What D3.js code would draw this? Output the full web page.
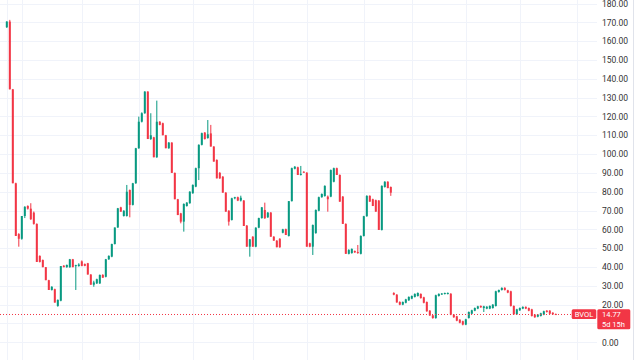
<!DOCTYPE html>
<html>
<head>
<meta charset="utf-8">
<script src="https://cdn.jsdelivr.net/npm/d3@7"></script>
<style>
  html, body { margin: 0; padding: 0; background: #fff; }
  svg { display: block; }
  .price-axis text { font-family: Roboto, "Noto Sans", sans-serif; font-size: 8.5px; fill: #333; }
  .tag { font-family: Roboto, "Noto Sans", sans-serif; font-size: 7.5px; fill: #fff; }
</style>
</head>
<body>
<div id="chart"></div>
<script>
// weekly bars, [open, high, low, close]
// before the drop down to the 20s
const barsBefore = [
  [167.4,170.6,167.0,170.4],[170.4,171.3,134.4,134.4],[134.4,134.6,84.5,84.5],[84.5,84.8,56.5,56.5],
  [57.5,58.0,50.8,55.0],[55.0,67.1,54.5,67.1],[67.1,72.3,66.0,72.0],[72.4,72.8,70.5,71.0],
  [71.0,73.9,65.0,65.4],[68.9,69.5,62.5,62.9],[62.9,63.2,42.7,42.7],[45.9,46.2,42.4,42.7],
  [43.7,44.0,39.9,39.9],[39.9,40.0,33.0,33.0],[33.0,33.2,27.8,27.8],[27.8,29.8,27.5,29.5],
  [28.2,28.5,21.1,21.1],[19.3,22.8,18.9,22.5],[22.1,40.5,21.8,40.5],[40.7,41.0,39.9,39.9],
  [39.9,41.3,39.6,41.1],[39.9,44.3,39.6,44.1],[44.1,44.3,39.9,39.9],[40.5,41.2,27.8,41.0],
  [40.5,42.0,40.2,41.3],[43.0,43.5,40.4,40.6],[41.6,41.9,40.4,40.6],[42.0,42.2,36.0,36.0],
  [36.0,36.2,30.6,30.6],[30.6,32.7,29.5,31.8],[31.3,33.8,31.0,33.5],[31.3,36.0,31.0,35.8],
  [35.8,36.2,34.3,34.3],[34.8,44.3,34.5,44.1],[44.1,46.2,43.8,45.9],[45.5,52.4,45.2,52.2],
  [52.2,61.0,52.0,61.0],[61.0,71.4,60.8,71.2],[71.7,72.0,69.4,69.4],[67.1,70.2,66.8,69.9],
  [67.1,83.6,66.8,80.0],[80.9,81.2,66.4,73.0],[73.0,84.7,72.7,84.5],[84.5,103.3,84.2,103.1],
  [103.1,119.9,102.8,117.2],[117.2,122.2,116.8,121.7],[121.7,133.4,121.4,133.2],[133.2,133.4,108.0,108.0],
  [108.0,121.7,107.5,110.0],[108.9,109.2,98.3,98.3],[98.3,128.4,98.0,117.2],[117.2,117.5,115.3,115.5],
  [116.4,116.7,110.0,110.0],[110.0,110.2,103.1,103.1],[103.1,106.4,102.8,106.1],[106.1,106.3,90.0,90.0],
  [90.0,90.2,76.0,76.0],[76.0,76.2,67.6,67.6],[68.5,68.8,63.2,64.1],[64.1,73.8,58.8,73.5],
  [72.4,74.5,72.1,74.2],[73.9,80.3,73.6,80.0],[79.2,83.9,78.9,83.6],[82.7,92.8,82.4,92.5],
  [92.5,105.2,86.2,104.9],[104.9,111.4,104.6,111.1],[111.4,111.7,107.7,108.0],[108.5,118.1,108.2,110.5],
  [111.0,115.5,104.0,104.0],[104.0,104.2,96.0,96.0],[96.9,97.2,87.1,87.1],[90.0,90.5,86.8,87.1],
  [88.0,88.3,79.5,79.5],[79.5,79.8,69.4,69.4],[69.9,70.2,62.0,64.1],[65.0,76.8,64.7,76.5],
  [76.5,77.3,76.0,77.1],[77.1,77.4,75.0,75.3],[75.3,77.9,74.8,76.8],[75.3,75.6,61.8,61.8],
  [62.0,62.3,50.8,50.8],[50.8,54.9,45.5,54.7],[56.1,56.4,50.8,50.8],[50.8,61.1,50.5,60.9],
  [60.9,66.2,60.6,66.0],[66.0,71.9,65.7,71.7],[70.3,74.2,65.6,65.9],[66.4,69.2,66.1,68.9],
  [68.9,69.2,56.1,56.1],[56.1,56.4,54.0,54.0],[54.0,54.3,50.5,50.5],[55.0,55.3,50.2,50.5],
  [58.2,60.3,57.9,60.0],[60.1,60.4,57.0,57.0],[56.5,75.0,56.2,75.0],[75.0,92.8,74.8,92.5],
  [92.2,93.6,91.9,93.3],[93.0,93.3,88.9,88.9],[88.9,93.7,88.6,89.5],[90.6,90.9,90.1,90.1],
  [90.1,90.4,50.8,50.8],[52.6,52.9,50.5,50.8],[50.8,62.6,46.4,62.3],[58.0,70.6,57.7,70.3],
  [69.9,77.4,69.6,77.1],[77.1,79.1,76.8,78.8],[77.7,83.4,77.4,83.1],[77.4,78.0,69.4,76.0],
  [77.4,91.8,77.1,91.5],[85.3,92.8,85.0,92.5],[92.5,92.8,88.9,88.9],[88.9,89.2,74.7,74.7],
  [77.4,77.7,62.9,62.9],[62.9,63.2,47.0,47.0],[47.0,49.5,46.7,49.0],[47.4,49.9,47.1,49.6],
  [48.5,48.8,47.5,47.8],[48.0,51.7,47.0,47.5],[47.0,56.8,46.7,56.5],[56.5,67.2,56.2,67.0],
  [67.0,78.1,66.7,77.8],[77.8,78.1,74.7,74.7],[76.0,76.3,72.4,72.4],[75.5,75.8,69.4,69.4],
  [75.3,75.6,59.7,59.7],[59.7,83.4,59.4,83.1],[82.5,85.6,82.2,85.3],[85.3,85.6,81.9,81.9],
  [82.5,82.8,77.8,79.5]
];

// after the drop
const barsAfter = [
  [26.2,26.6,25.0,25.3],[25.3,25.6,21.0,21.2],[21.4,21.8,19.7,20.0],[20.0,21.7,19.7,21.4],
  [21.0,23.1,20.7,22.8],[22.3,24.4,22.0,24.1],[23.2,24.9,22.9,24.6],[24.1,26.0,23.8,25.7],
  [24.6,26.5,24.3,26.2],[25.7,26.0,23.2,23.5],[23.9,24.2,20.7,21.0],[21.4,21.7,16.2,16.5],
  [16.8,17.1,14.0,14.3],[14.3,14.6,12.5,12.9],[12.9,25.3,12.5,25.0],[24.6,26.0,24.3,25.7],
  [25.5,26.2,25.2,25.9],[25.7,26.4,25.4,26.2],[25.7,26.5,25.4,26.2],[25.8,26.1,14.4,14.7],
  [14.7,15.0,13.0,13.3],[13.8,14.1,11.2,11.5],[12.0,12.3,10.1,10.4],[11.2,11.5,9.0,9.4],
  [9.4,12.5,9.1,12.2],[12.9,16.4,12.6,16.1],[15.2,17.3,14.9,17.0],[16.8,18.5,16.5,18.2],
  [17.9,19.4,17.6,19.1],[19.3,19.6,18.3,18.6],[18.2,19.4,16.1,19.1],[17.9,19.2,17.6,18.9],
  [17.9,19.6,17.6,19.3],[18.2,20.3,17.9,20.0],[19.3,27.4,19.0,27.1],[26.7,28.0,26.4,27.8],
  [27.8,29.2,27.5,28.9],[28.9,29.3,27.5,27.8],[27.6,27.9,26.1,26.4],[27.1,27.4,19.0,19.3],
  [19.3,19.6,14.6,14.9],[14.9,17.8,14.6,17.5],[17.0,18.5,16.7,18.2],[17.9,19.1,17.6,18.8],
  [18.8,19.1,17.6,17.9],[18.2,18.5,16.5,16.8],[17.5,17.8,13.7,14.0],[14.7,15.0,13.0,13.3],
  [13.6,15.0,13.3,14.7],[14.0,15.7,13.7,15.4],[14.7,16.8,14.4,16.5],[16.8,17.1,15.8,16.1],
  [16.8,17.1,14.9,15.2],[15.7,16.0,14.6,14.9],[15.0,15.3,14.5,14.77]
];

const priceTicks = [0, 10, 20, 30, 40, 50, 60, 70, 80, 90, 100, 110, 120, 130, 140, 150, 160, 170, 180];
// bar numbers where the time grid lines fall
const timeGridBars = [0, 5, 25, 44, 62, 82, 100, 119, 135, 153, 171, 190];
const symbol = 'BVOL';
const lastPrice = 14.77;
const countdown = '5d 15h';

const upColor = '#089981';
const downColor = '#f23645';

const width = 640;
const height = 360;
const paneRight = 597; // where the price scale begins

const bars = barsBefore.concat(barsAfter);

const svg = d3.select('#chart')
  .append('svg')
  .attr('width', width)
  .attr('height', height);

const x = d3.scaleLinear()
  .domain([0, bars.length - 1])
  .range([6.8, 555.8]);

const y = d3.scaleLinear()
  .domain([0, 180])
  .range([342.3, 3.5]);

// grid
const grid = svg.append('g').attr('stroke', '#f0f3fa').attr('stroke-width', 1);

grid.selectAll('line.h')
  .data(priceTicks)
  .join('line')
  .attr('class', 'h')
  .attr('x1', 0)
  .attr('x2', paneRight)
  .attr('y1', (d) => Math.round(y(d)) + 0.5)
  .attr('y2', (d) => Math.round(y(d)) + 0.5);

grid.selectAll('line.v')
  .data(timeGridBars)
  .join('line')
  .attr('class', 'v')
  .attr('x1', (d) => Math.round(x(d)) + 0.5)
  .attr('x2', (d) => Math.round(x(d)) + 0.5)
  .attr('y1', 0)
  .attr('y2', height);

// price scale right border
svg.append('line')
  .attr('x1', 633.5)
  .attr('x2', 633.5)
  .attr('y1', 0)
  .attr('y2', height)
  .attr('stroke', '#e0e3eb');

// candles
const candles = svg.append('g');
const bodyW = 2;

bars.forEach((b, i) => {
  const [o, h, l, c] = b;
  const col = c >= o ? upColor : downColor;
  const cx = x(i);

  candles.append('rect')
    .attr('x', cx - 0.5)
    .attr('width', 1)
    .attr('y', y(h))
    .attr('height', Math.max(0.8, y(l) - y(h)))
    .attr('fill', col);

  const top = y(Math.max(o, c));
  const bot = y(Math.min(o, c));
  candles.append('rect')
    .attr('x', cx - bodyW / 2)
    .attr('width', bodyW)
    .attr('y', top)
    .attr('height', Math.max(1, bot - top))
    .attr('fill', col);
});

// last price line
svg.append('line')
  .attr('x1', 0)
  .attr('x2', 571)
  .attr('y1', y(lastPrice))
  .attr('y2', y(lastPrice))
  .attr('stroke', downColor)
  .attr('stroke-width', 1)
  .attr('stroke-dasharray', '1,2');

// price axis
svg.append('g')
  .attr('class', 'price-axis')
  .attr('transform', `translate(${paneRight},0)`)
  .call(d3.axisRight(y).tickValues(priceTicks).tickSize(0).tickPadding(5).tickFormat((d) => d.toFixed(2)))
  .call((g) => g.select('.domain').remove());

// symbol + last price tags
const tagY = y(lastPrice) - 5.2;

svg.append('rect')
  .attr('x', 571.7)
  .attr('y', tagY)
  .attr('width', 24.6)
  .attr('height', 9.6)
  .attr('rx', 1.5)
  .attr('fill', downColor);

svg.append('text')
  .attr('class', 'tag')
  .attr('x', 584)
  .attr('y', tagY + 4.8)
  .attr('dy', '0.35em')
  .attr('text-anchor', 'middle')
  .text(symbol);

svg.append('rect')
  .attr('x', 597.3)
  .attr('y', tagY)
  .attr('width', 33)
  .attr('height', 20)
  .attr('rx', 1.5)
  .attr('fill', downColor);

svg.append('text')
  .attr('class', 'tag')
  .attr('x', 602)
  .attr('y', tagY + 4.6)
  .attr('dy', '0.35em')
  .text(lastPrice.toFixed(2));

svg.append('text')
  .attr('class', 'tag')
  .attr('x', 602)
  .attr('y', tagY + 14.6)
  .attr('dy', '0.35em')
  .text(countdown);
</script>
</body>
</html>
